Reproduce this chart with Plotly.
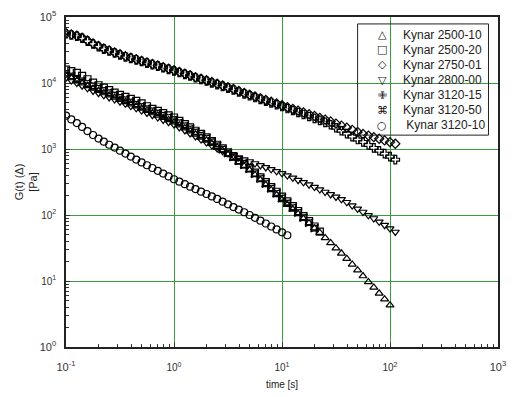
import plotly.graph_objects as go

# time grid (s)
t = [0.1, 0.112, 0.126, 0.141, 0.158, 0.178, 0.2, 0.224, 0.251, 0.282,
     0.316, 0.355, 0.398, 0.447, 0.501, 0.562, 0.631, 0.708, 0.794, 0.891,
     1.0, 1.12, 1.26, 1.41, 1.58, 1.78, 2.0, 2.24, 2.51, 2.82,
     3.16, 3.55, 3.98, 4.47, 5.01, 5.62, 6.31, 7.08, 7.94, 8.91,
     10.0, 11.2, 12.6, 14.1, 15.8, 17.8, 20.0, 22.4, 25.1, 28.2,
     31.6, 35.5, 39.8, 44.7, 50.1, 56.2, 63.1, 70.8, 79.4, 89.1,
     100, 112]

g_2500_10 = [13000, 11900, 10900, 9910, 9060, 8280, 7640, 7060, 6530, 6040,
             5600, 5180, 4800, 4450, 4110, 3800, 3510, 3240, 2990, 2760,
             2550, 2300, 2070, 1860, 1670, 1500, 1350, 1200, 1060, 940,
             826, 721, 629, 548, 479, 404, 340, 286, 240, 202,
             170, 144, 122, 104, 88, 75, 63, 54, 45, 37.7,
             31.5, 26.3, 21.8, 17.8, 14.6, 11.9, 9.7, 8.0, 6.5, 5.3, 4.3]
g_2500_20 = [16000, 15100, 14200, 12800, 11400, 10100, 9250, 8490, 7780, 7130,
             6590, 6150, 5740, 5360, 4910, 4440, 4060, 3770, 3490, 3240,
             3000, 2670, 2380, 2120, 1890, 1690, 1500, 1320, 1160, 1020,
             893, 780, 681, 594, 519, 439, 372, 314, 265, 225,
             190, 161, 136, 115, 96, 81, 67, 56]
g_2750_01 = [57000, 54600, 52300, 48700, 44100, 39800, 36400, 33400, 31300, 29200,
             27300, 25500, 24200, 22900, 21700, 20500, 19400, 18400, 17400, 16500,
             15600, 14700, 13900, 13100, 12300, 11600, 11000, 10400, 9770, 9200,
             8650, 8110, 7590, 7110, 6670, 6270, 5890, 5530, 5210, 4900,
             4600, 4320, 4060, 3820, 3590, 3370, 3170, 2970, 2790, 2610,
             2430, 2260, 2100, 1950, 1810, 1690, 1600, 1510, 1430, 1350, 1270, 1200]
g_2800_00 = [12000, 10900, 9980, 9100, 8300, 7570, 7010, 6510, 6050, 5620,
             5210, 4830, 4470, 4140, 3820, 3520, 3250, 3000, 2760, 2550,
             2350, 2120, 1910, 1720, 1550, 1390, 1250, 1130, 1020, 927,
             851, 794, 741, 692, 646, 603, 563, 526, 491, 458,
             428, 395, 365, 337, 312, 288, 265, 243, 223, 205,
             188, 173, 156, 139, 124, 111, 99, 88.5, 78.9, 70.1, 62.3, 55.3]
g_3120_15 = [55700, 53400, 51100, 47600, 43100, 38900, 35600, 32600, 30600, 28500,
             26700, 24900, 23600, 22400, 21200, 20000, 19000, 18000, 17000, 16100,
             15200, 14400, 13500, 12800, 12000, 11300, 10700, 10000, 9460, 8900,
             8360, 7830, 7310, 6850, 6410, 6020, 5650, 5300, 4990, 4680,
             4400, 4100, 3830, 3570, 3340, 3110, 2910, 2710, 2530, 2330,
             2100, 1890, 1710, 1540, 1390, 1280, 1150, 1040, 940, 850, 766, 690]
g_3120_50 = [14000, 12800, 11800, 10800, 9890, 9080, 8370, 7730, 7130, 6580,
             6070, 5600, 5170, 4770, 4410, 4090, 3790, 3520, 3260, 3020,
             2800, 2510, 2250, 2020, 1810, 1620, 1450, 1280, 1120, 986,
             865, 754, 658, 573, 500, 421, 355, 299, 253, 213,
             180, 152, 129, 109, 91, 76, 63]
g_3120_10 = [3200, 2810, 2470, 2160, 1870, 1630, 1440, 1290, 1160, 1050,
             944, 851, 767, 692, 625, 567, 515, 467, 424, 384,
             348, 320, 293, 269, 247, 226, 208, 191, 175, 159,
             145, 132, 121, 110, 100, 90.6, 81.9, 74.3, 67.0, 60.5,
             54.6, 49.3]

series_names = ["Kynar 2500-10", "Kynar 2500-20", "Kynar 2750-01", "Kynar 2800-00",
                "Kynar 3120-15", "Kynar 3120-50", " Kynar 3120-10"]
series_values = [g_2500_10, g_2500_20, g_2750_01, g_2800_00, g_3120_15, g_3120_50, g_3120_10]
symbols = ["triangle-up-open", "square-open", "diamond-open", "triangle-down-open",
           "cross-open", "star-square-open", "circle-open"]
legend_glyphs = ["△", "□", "◇", "▽", "✙", "⌘", "○"]

x_tickvals = [0.1, 1, 10, 100, 1000]
x_ticktext = ["<span style='font-size:11px'>10<sup>-1</sup></span>", "10<sup>0</sup>",
              "10<sup>1</sup>", "10<sup>2</sup>",
              "<span style='font-size:11px'>10<sup>3</sup></span>"]
y_tickvals = [1, 10, 100, 1000, 10000, 100000]
y_ticktext = ["<span style='font-size:11px'>10<sup>0</sup></span>", "10<sup>1</sup>",
              "10<sup>2</sup>", "10<sup>3</sup>", "10<sup>4</sup>",
              "<span style='font-size:11px'>10<sup>5</sup></span>"]

fig = go.Figure()
for name, vals, sym in zip(series_names, series_values, symbols):
    fig.add_trace(go.Scatter(
        x=t[:len(vals)], y=vals, mode="markers", name=name.strip(), showlegend=False,
        marker=dict(symbol=sym, size=7, color="black", line=dict(color="black", width=1.2)),
    ))

grid_green = "#3c9c3c"
axis_common = dict(
    type="log", showgrid=True, gridcolor=grid_green, gridwidth=1,
    showline=True, linecolor="#222", linewidth=1.5, mirror=True,
    ticks="inside", ticklen=4, tickcolor="#333", zeroline=False,
    tickfont=dict(size=10, color="#333"), ticklabeloverflow="allow",
    minor=dict(ticks="inside", ticklen=3, tickcolor="#333", showgrid=False, dtick="D1"),
    tickmode="array",
)

fig.update_xaxes(**axis_common, range=[-1, 3], tickvals=x_tickvals, ticktext=x_ticktext,
                 ticklabelstandoff=10,
                 title=dict(text="time [s]", font=dict(size=10, color="#222"), standoff=9))
fig.update_yaxes(**axis_common, range=[0, 5], tickvals=y_tickvals, ticktext=y_ticktext,
                 ticklabelstandoff=6,
                 title=dict(text="G(t) (Δ)<br>[Pa]", font=dict(size=11, color="#222"), standoff=0))

# legend box (paper coordinates)
lx0, lx1, ly0, ly1 = 0.675, 0.978, 0.642, 0.979
fig.add_shape(type="rect", xref="paper", yref="paper", x0=lx0, x1=lx1, y0=ly0, y1=ly1,
              line=dict(color="#222", width=1), fillcolor="rgba(0,0,0,0)")
row_top, row_step = 0.946, 0.0457
for i, (name, glyph) in enumerate(zip(series_names, legend_glyphs)):
    yy = row_top - i * row_step
    fig.add_annotation(xref="paper", yref="paper", x=0.732, y=yy, text=glyph,
                       showarrow=False, xanchor="center", yanchor="middle",
                       font=dict(family="DejaVu Sans", size=11, color="#111"))
    fig.add_annotation(xref="paper", yref="paper", x=0.776, y=yy, text=name,
                       showarrow=False, xanchor="left", yanchor="middle",
                       font=dict(size=12, color="#222"))

fig.update_layout(
    width=514, height=397,
    margin=dict(l=66, r=8, t=17, b=45),
    plot_bgcolor="white", paper_bgcolor="white",
    font=dict(family="Liberation Sans, Arial, sans-serif", size=10, color="#222"),
    showlegend=False,
)

fig.write_html("out.html", config={"displayModeBar": False},
               post_script="document.body.style.margin='0';document.body.style.overflow='hidden';")
